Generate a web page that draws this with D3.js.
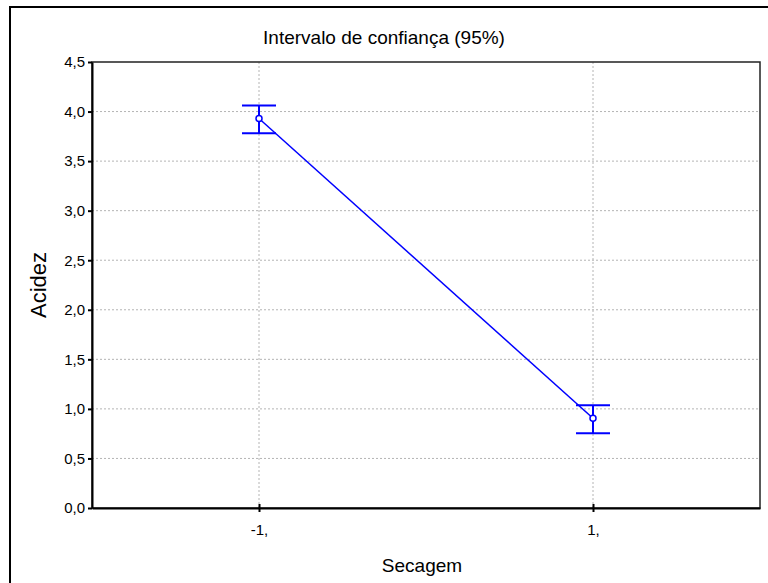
<!DOCTYPE html>
<html>
<head>
<meta charset="utf-8">
<script src="https://cdn.jsdelivr.net/npm/d3@7"></script>
<style>
  body { margin: 0; background: #fff; }
  svg text { font-family: "Liberation Sans", Arial, sans-serif; fill: #000; }
</style>
</head>
<body>
<div class="chart"></div>
<script>
// data
var categories = ["-1,", "1,"];
var means = [3.93, 0.905];
var upper = [4.06, 1.036];
var lower = [3.78, 0.754];
var yTicks = [0, 0.5, 1, 1.5, 2, 2.5, 3, 3.5, 4, 4.5];

var width = 768, height = 583;
var margin = { top: 62, right: 8, bottom: 75, left: 92 };
var plotW = width - margin.left - margin.right;
var plotH = height - margin.top - margin.bottom;

var svg = d3.select('.chart')
	.append('svg')
	.attr('width', width)
	.attr('height', height);

// outer frame
svg.append('rect')
	.attr('x', 10).attr('y', 7)
	.attr('width', 800).attr('height', 600)
	.attr('fill', 'none')
	.attr('stroke', '#000')
	.attr('stroke-width', 2);

var g = svg.append('g')
	.attr('transform', 'translate(' + margin.left + ',' + margin.top + ')');

var xScale = d3.scalePoint()
	.domain(categories)
	.range([0, plotW])
	.padding(0.5);

var yScale = d3.scaleLinear()
	.domain([0, 4.5])
	.range([plotH, 0]);

// grid
g.append('g').selectAll('line')
	.data(yTicks.filter(function (d) { return d > 0 && d < 4.5; }))
	.enter().append('line')
	.attr('x1', 0).attr('x2', plotW)
	.attr('y1', function (d) { return yScale(d); })
	.attr('y2', function (d) { return yScale(d); })
	.attr('stroke', '#b4b4b4')
	.attr('stroke-dasharray', '2,2');

g.append('g').selectAll('line')
	.data(categories)
	.enter().append('line')
	.attr('x1', function (d) { return xScale(d); })
	.attr('x2', function (d) { return xScale(d); })
	.attr('y1', 0).attr('y2', plotH)
	.attr('stroke', '#b4b4b4')
	.attr('stroke-dasharray', '2,2');

// frame of plot area
g.append('rect')
	.attr('width', plotW).attr('height', plotH)
	.attr('fill', 'none')
	.attr('stroke', '#222')
	.attr('stroke-width', 1.5);

// axes
var yAxis = d3.axisLeft(yScale)
	.tickValues(yTicks)
	.tickFormat(function (d) { return d3.format('.1f')(d).replace('.', ','); })
	.tickSizeInner(4)
	.tickSizeOuter(0)
	.tickPadding(3);

var xAxis = d3.axisBottom(xScale)
	.tickSizeInner(4)
	.tickSizeOuter(0)
	.tickPadding(12);

var yG = g.append('g').attr('class', 'y axis').call(yAxis);
var xG = g.append('g').attr('class', 'x axis')
	.attr('transform', 'translate(0,' + plotH + ')')
	.call(xAxis);

[yG, xG].forEach(function (a) {
	a.select('.domain').attr('stroke', '#000').attr('stroke-width', 2);
	a.selectAll('.tick line').attr('stroke', '#000').attr('stroke-width', 2);
	a.selectAll('.tick text').style('font-size', '15px');
});
xG.selectAll('.tick line').attr('y1', -4);

// line through means
var line = d3.line()
	.x(function (d, i) { return xScale(categories[i]); })
	.y(function (d) { return yScale(d); });

g.append('path')
	.datum(means)
	.attr('d', line)
	.attr('fill', 'none')
	.attr('stroke', '#0000ff')
	.attr('stroke-width', 1.5);

// error bars
var capW = 17;
var bars = g.append('g').selectAll('g')
	.data(categories)
	.enter().append('g');

bars.append('line')
	.attr('x1', function (d) { return xScale(d); })
	.attr('x2', function (d) { return xScale(d); })
	.attr('y1', function (d, i) { return yScale(upper[i]); })
	.attr('y2', function (d, i) { return yScale(lower[i]); })
	.attr('stroke', '#0000ff').attr('stroke-width', 2);

bars.append('line')
	.attr('x1', function (d) { return xScale(d) - capW; })
	.attr('x2', function (d) { return xScale(d) + capW; })
	.attr('y1', function (d, i) { return yScale(upper[i]); })
	.attr('y2', function (d, i) { return yScale(upper[i]); })
	.attr('stroke', '#0000ff').attr('stroke-width', 2);

bars.append('line')
	.attr('x1', function (d) { return xScale(d) - capW; })
	.attr('x2', function (d) { return xScale(d) + capW; })
	.attr('y1', function (d, i) { return yScale(lower[i]); })
	.attr('y2', function (d, i) { return yScale(lower[i]); })
	.attr('stroke', '#0000ff').attr('stroke-width', 2);

bars.append('circle')
	.attr('cx', function (d) { return xScale(d); })
	.attr('cy', function (d, i) { return yScale(means[i]); })
	.attr('r', 3)
	.attr('fill', '#fff')
	.attr('stroke', '#0000ff')
	.attr('stroke-width', 1.5);

// titles
svg.append('text')
	.attr('x', 384).attr('y', 44)
	.attr('text-anchor', 'middle')
	.style('font-size', '19px')
	.text('Intervalo de confiança (95%)');

svg.append('text')
	.attr('transform', 'translate(46,' + (margin.top + plotH / 2) + ') rotate(-90)')
	.attr('text-anchor', 'middle')
	.style('font-size', '22px')
	.text('Acidez');

svg.append('text')
	.attr('x', 422).attr('y', 572)
	.attr('text-anchor', 'middle')
	.style('font-size', '19px')
	.text('Secagem');
</script>
</body>
</html>
